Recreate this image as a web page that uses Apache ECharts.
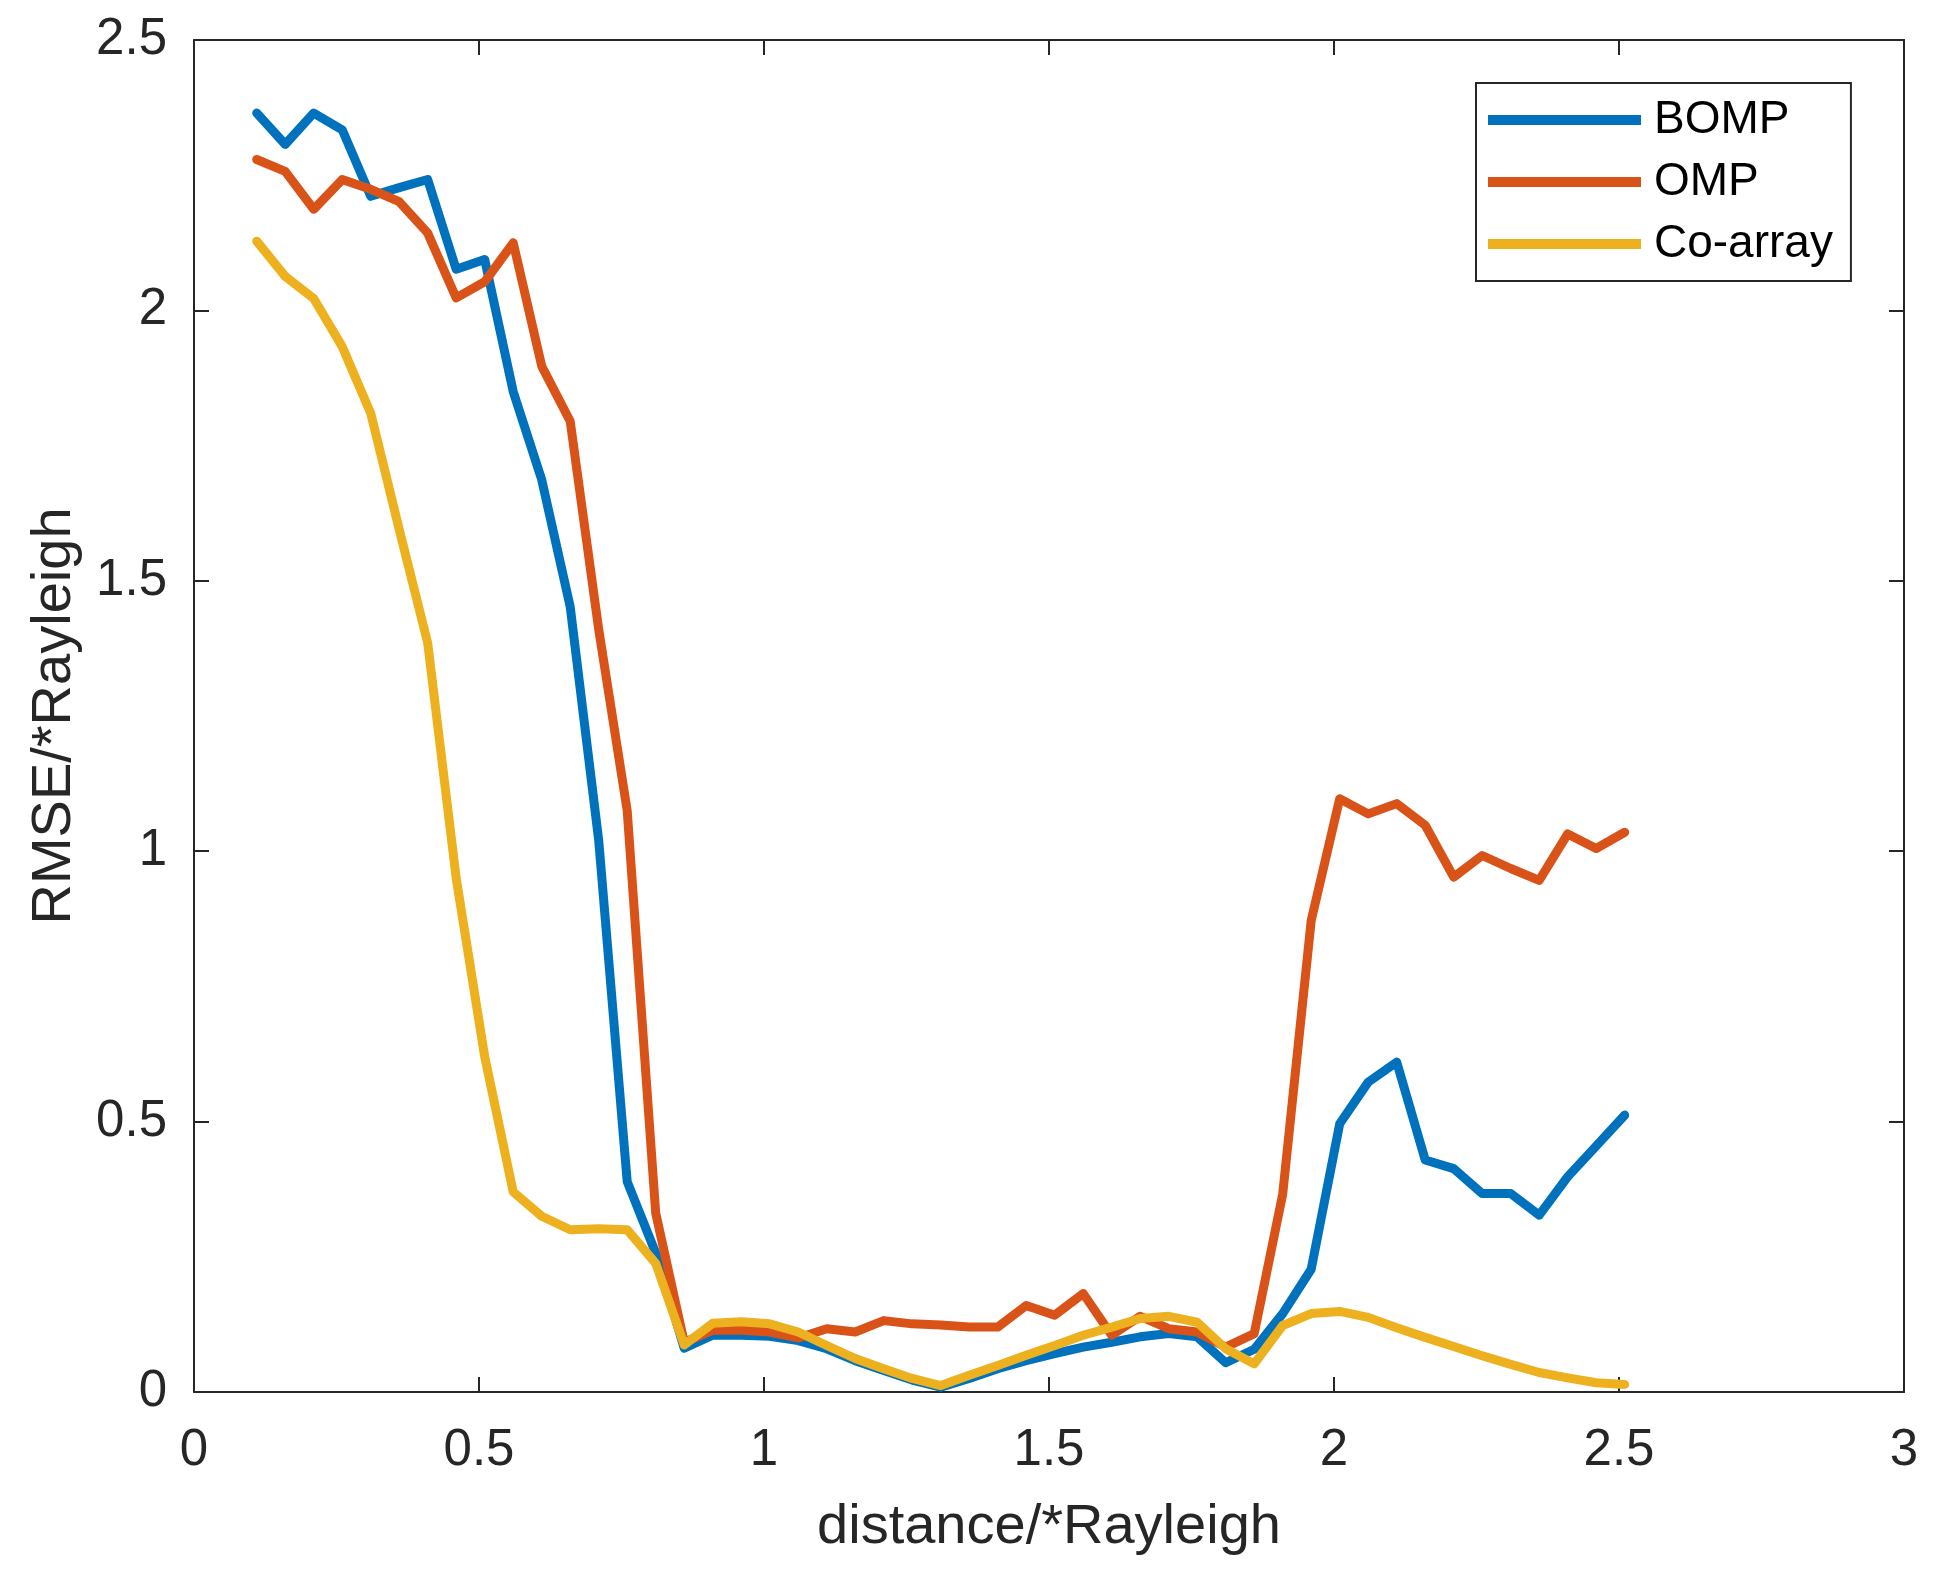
<!DOCTYPE html>
<html>
<head>
<meta charset="utf-8">
<title>RMSE vs distance</title>
<script src="https://cdn.jsdelivr.net/npm/echarts@6/dist/echarts.min.js"></script>
<style>
  html, body { margin: 0; padding: 0; background: #fff; }
  #main { width: 1941px; height: 1578px; }
</style>
</head>
<body>
<div id="main"></div>
<script>
// distance / Rayleigh (x positions of the samples)
var distance = [0.11, 0.16, 0.21, 0.26, 0.31, 0.36, 0.41, 0.46, 0.51, 0.56,
                0.61, 0.66, 0.71, 0.76, 0.81, 0.86, 0.91, 0.96, 1.01, 1.06,
                1.11, 1.16, 1.21, 1.26, 1.31, 1.36, 1.41, 1.46, 1.51, 1.56,
                1.61, 1.66, 1.71, 1.76, 1.81, 1.86, 1.91, 1.96, 2.01, 2.06,
                2.11, 2.16, 2.21, 2.26, 2.31, 2.36, 2.41, 2.46, 2.51];

var bomp = [2.365, 2.307, 2.365, 2.334, 2.211, 2.227, 2.242, 2.076, 2.094, 1.85,
            1.687, 1.452, 1.02, 0.389, 0.257, 0.081, 0.105, 0.105, 0.103, 0.095,
            0.080, 0.058, 0.040, 0.022, 0.009, 0.025, 0.043, 0.058, 0.071, 0.083,
            0.092, 0.102, 0.108, 0.102, 0.054, 0.079, 0.145, 0.227, 0.496, 0.573,
            0.610, 0.429, 0.413, 0.367, 0.367, 0.327, 0.398, 0.455, 0.512];

var omp = [2.279, 2.257, 2.187, 2.242, 2.224, 2.201, 2.143, 2.023, 2.053, 2.125,
           1.897, 1.795, 1.41, 1.075, 0.331, 0.092, 0.114, 0.114, 0.111, 0.100,
           0.117, 0.111, 0.132, 0.126, 0.124, 0.120, 0.120, 0.160, 0.142, 0.182,
           0.105, 0.140, 0.117, 0.111, 0.083, 0.108, 0.366, 0.872, 1.097, 1.069,
           1.088, 1.048, 0.952, 0.992, 0.968, 0.946, 1.032, 1.005, 1.035];

var coArray = [2.128, 2.063, 2.022, 1.933, 1.810, 1.595, 1.385, 0.95, 0.62, 0.37,
               0.325, 0.30, 0.302, 0.30, 0.238, 0.087, 0.127, 0.130, 0.126, 0.111,
               0.086, 0.062, 0.043, 0.025, 0.012, 0.031, 0.049, 0.068, 0.086, 0.105,
               0.120, 0.136, 0.140, 0.129, 0.080, 0.052, 0.123, 0.145, 0.149, 0.138,
               0.119, 0.101, 0.084, 0.067, 0.051, 0.036, 0.026, 0.017, 0.014];

var seriesNames = ['BOMP', 'OMP', 'Co-array'];
var seriesColors = ['#0072BD', '#D95319', '#EDB120'];

var FONT = '"Liberation Sans", Arial, Helvetica, sans-serif';
var INK = '#262626';

function pairs(ys) {
    return distance.map(function (x, i) { return [x, ys[i]]; });
}

function boxAxis(opts, showLabel) {
    var base = {
        type: 'value',
        axisLine: { show: true, onZero: false, lineStyle: { color: INK, width: 2 } },
        axisTick: { show: true, inside: true, length: 15, lineStyle: { color: INK, width: 2 } },
        axisLabel: { show: showLabel, color: INK, fontSize: 51, fontFamily: FONT },
        splitLine: { show: false }
    };
    return Object.assign(base, opts);
}

var chart = echarts.init(document.getElementById('main'));

var option = {
    animation: false,
    backgroundColor: '#ffffff',
    grid: {
        left: 194,
        right: 37,
        top: 40,
        bottom: 186,
        outerBoundsMode: 'none'
    },
    legend: {
        orient: 'vertical',
        left: 1476,
        top: 83,
        padding: [12, 18, 12, 12],
        itemWidth: 153,
        itemHeight: 10,
        itemGap: 12,
        borderColor: INK,
        borderWidth: 2,
        backgroundColor: '#ffffff',
        icon: 'rect',
        data: seriesNames,
        textStyle: { color: '#000', fontSize: 46, fontFamily: FONT, lineHeight: 50, padding: [0, 0, 0, 8] }
    },
    xAxis: [
        boxAxis({
            min: 0, max: 3, interval: 0.5, position: 'bottom',
            name: 'distance/*Rayleigh',
            nameLocation: 'middle',
            nameGap: 108,
            nameTextStyle: { color: INK, fontSize: 56, fontFamily: FONT }
        }, true),
        boxAxis({ min: 0, max: 3, interval: 0.5, position: 'top' }, false)
    ],
    yAxis: [
        boxAxis({
            min: 0, max: 2.5, interval: 0.5, position: 'left',
            name: 'RMSE/*Rayleigh',
            nameLocation: 'middle',
            nameGap: 111,
            nameTextStyle: { color: INK, fontSize: 56, fontFamily: FONT }
        }, true),
        boxAxis({ min: 0, max: 2.5, interval: 0.5, position: 'right' }, false)
    ],
    series: [bomp, omp, coArray].map(function (ys, i) {
        return {
            name: seriesNames[i],
            type: 'line',
            symbol: 'none',
            color: seriesColors[i],
            lineStyle: { width: 9, color: seriesColors[i], cap: 'round', join: 'round' },
            data: pairs(ys)
        };
    })
};

// tick label spacing like the MATLAB figure
option.xAxis[0].axisLabel.margin = 33;
option.yAxis[0].axisLabel.margin = 27;

chart.setOption(option);
</script>
</body>
</html>
